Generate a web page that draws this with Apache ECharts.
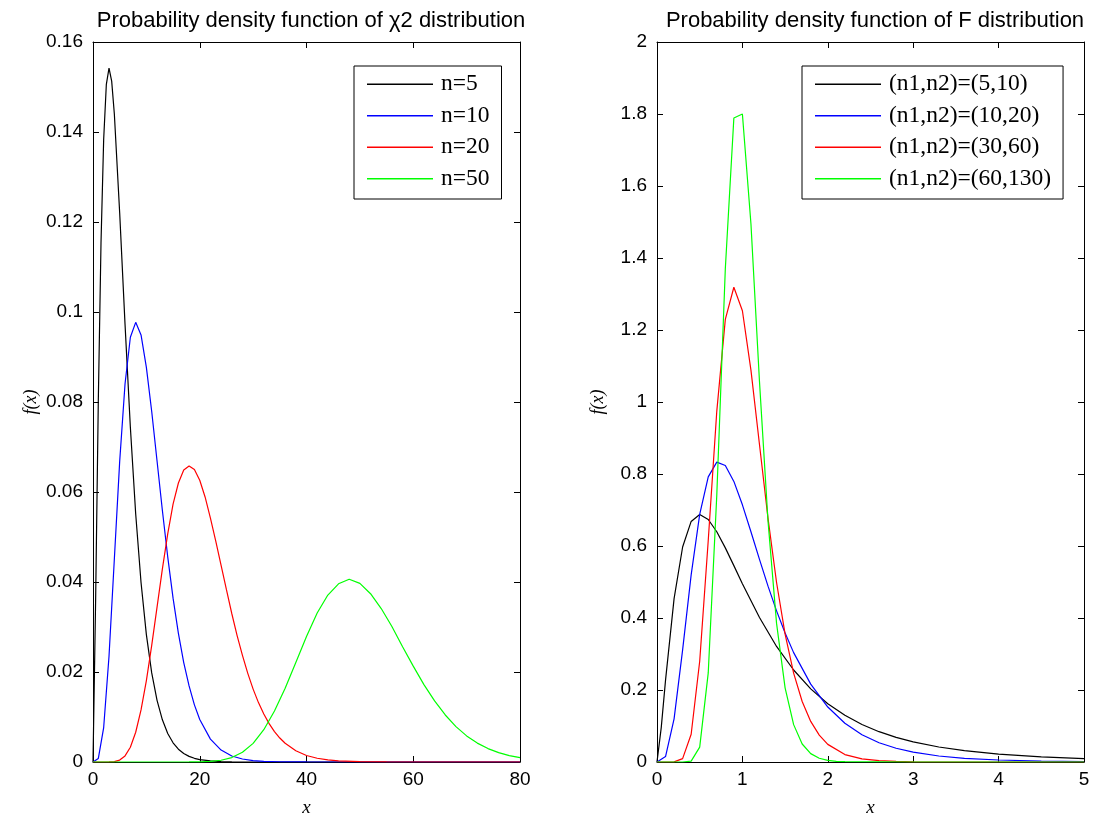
<!DOCTYPE html>
<html>
<head>
<meta charset="utf-8">
<script src="https://cdn.jsdelivr.net/npm/echarts@6/dist/echarts.min.js"></script>
<style>html,body{margin:0;padding:0;background:#fff}#c{width:1093px;height:822px}</style>
</head>
<body>
<div id="c"></div>
<script>
// ---- Chi-square panel data ----
const chiNames = ['n=5', 'n=10', 'n=20', 'n=50'];
const chiX5 = [0,0.5,1,1.5,2,2.5,3,3.5,4,5,6,7,8,9,10,11,12,13,14,15,16,17,18,19,20,22,24,26,30,40,50,60,70,80];
const chiY5 = [0,0.0366,0.0807,0.1154,0.1384,0.1506,0.1542,0.1513,0.1440,0.1220,0.0973,0.0744,0.0551,0.0399,0.0283,0.0198,0.0137,0.00937,0.00635,0.00427,0.00285,0.00190,0.00125,0.00082,0.00054,0.00023,0.0001,0.00004,0,0,0,0,0,0];
const chiX10 = [0,1,2,3,4,5,6,7,8,9,10,11,12,13,14,15,16,17,18,19,20,22,24,26,28,30,32,35,40,50,60,70,80];
const chiY10 = [0,0.00079,0.00766,0.0235,0.0451,0.0668,0.0840,0.0944,0.0977,0.0949,0.0877,0.0779,0.0669,0.0559,0.0456,0.0364,0.0286,0.0221,0.0169,0.0127,0.00946,0.00509,0.00265,0.00134,0.00067,0.00032,0.00015,0.00005,0.00001,0,0,0,0];
const chiX20 = [0,1,2,3,4,5,6,7,8,9,10,11,12,13,14,15,16,17,18,19,20,21,22,23,24,25,26,27,28,29,30,31,32,33,34,35,36,38,40,42,44,46,50,55,60,70,80];
const chiY20 = [0,0,0.0000005,0.000012,0.000095,0.00043,0.00135,0.00328,0.00661,0.01158,0.0181,0.0259,0.0344,0.0429,0.0507,0.0573,0.0620,0.0649,0.0658,0.0650,0.0626,0.0589,0.0542,0.0491,0.0437,0.0383,0.0330,0.0281,0.0237,0.0197,0.0162,0.0132,0.01065,0.00853,0.00676,0.00533,0.00416,0.00249,0.00145,0.00083,0.00046,0.00025,0.00007,0.00001,0,0,0];
const chiX50 = [0,10,18,20,22,24,26,28,30,32,34,36,38,40,42,44,46,48,50,52,54,56,58,60,62,64,66,68,70,72,74,76,78,80];
const chiY50 = [0,0,0.000008,0.0000366,0.000132,0.000394,0.000988,0.00215,0.00414,0.00718,0.01134,0.01641,0.0221,0.0279,0.0331,0.0371,0.0396,0.0406,0.0397,0.0374,0.0341,0.0301,0.0256,0.0213,0.0172,0.01357,0.01045,0.00786,0.00580,0.00420,0.00298,0.00208,0.00143,0.00096];

// ---- F panel data ----
const fNames = ['(n1,n2)=(5,10)', '(n1,n2)=(10,20)', '(n1,n2)=(30,60)', '(n1,n2)=(60,130)'];
const fXa = [0,0.05,0.1,0.2,0.3,0.4,0.5,0.6,0.7,0.8,0.9,1.0,1.2,1.4,1.6,1.8,2.0,2.2,2.4,2.6,2.8,3.0,3.3,3.6,4.0,4.5,5.0];
const fYa = [0,0.0963,0.2274,0.4538,0.5972,0.6683,0.6876,0.6736,0.6395,0.5948,0.5455,0.4954,0.4014,0.3210,0.2555,0.2032,0.1620,0.1296,0.1042,0.0842,0.0684,0.0558,0.0416,0.0314,0.0219,0.0143,0.0096];
const fXb = [0,0.1,0.2,0.3,0.4,0.5,0.6,0.7,0.8,0.9,1.0,1.1,1.2,1.3,1.4,1.5,1.6,1.8,2.0,2.2,2.4,2.6,2.8,3.0,3.3,3.6,4.0,4.5,5.0];
const fYb = [0,0.0150,0.1198,0.3114,0.5197,0.6879,0.7921,0.8331,0.8236,0.7794,0.7144,0.6396,0.5627,0.4884,0.4198,0.3582,0.3038,0.2163,0.1527,0.1076,0.0758,0.0536,0.0381,0.0272,0.0166,0.0103,0.0056,0.0027,0.00135];
const fXc = [0,0.1,0.2,0.3,0.4,0.5,0.6,0.7,0.8,0.9,1.0,1.1,1.2,1.3,1.4,1.5,1.6,1.7,1.8,1.9,2.0,2.2,2.4,2.6,2.8,3.0,4.0,5.0];
const fYc = [0,0,0.00024,0.00934,0.0772,0.2798,0.6151,0.9741,1.2295,1.3187,1.2534,1.0885,0.8819,0.6769,0.4986,0.3554,0.2469,0.1681,0.1128,0.0747,0.0490,0.0207,0.0086,0.0036,0.0015,0.0006,0,0];
const fXd = [0,0.1,0.2,0.3,0.4,0.5,0.6,0.7,0.8,0.9,1.0,1.1,1.2,1.3,1.4,1.5,1.6,1.7,1.8,1.9,2.0,2.1,2.2,3.0,4.0,5.0];
const fYd = [0,0,0,0.000025,0.0024,0.0413,0.2474,0.7408,1.370,1.789,1.800,1.495,1.057,0.669,0.385,0.206,0.1038,0.0500,0.0232,0.0105,0.0046,0.002,0.0008,0,0,0];

const colors = ['#000000', '#0000ff', '#ff0000', '#00ff00'];
const titles = ['Probability density function of \u03c72 distribution', 'Probability density function of F distribution'];

const pair = (xs, ys) => xs.map((x, i) => [x, ys[i]]);
const chiData = [pair(chiX5, chiY5), pair(chiX10, chiY10), pair(chiX20, chiY20), pair(chiX50, chiY50)];
const fData = [pair(fXa, fYa), pair(fXb, fYb), pair(fXc, fYc), pair(fXd, fYd)];

const sansFont = '"Liberation Sans", Arial, sans-serif';
const serifFont = '"Liberation Serif", "Times New Roman", serif';

function xAx(grid, min, max, interval, top) {
  return {
    type: 'value', gridIndex: grid, min: min, max: max, interval: interval,
    position: top ? 'top' : 'bottom',
    name: top ? '' : 'x', nameLocation: 'middle', nameGap: 36,
    nameTextStyle: { fontFamily: serifFont, fontStyle: 'italic', fontSize: 19, color: '#000' },
    axisLine: { show: true, onZero: false, lineStyle: { color: '#000', width: 1 } },
    axisTick: { show: true, inside: true, length: 6, lineStyle: { color: '#000' } },
    axisLabel: { show: !top, color: '#000', fontFamily: sansFont, fontSize: 19, margin: 8 },
    splitLine: { show: false }
  };
}
function yAx(grid, min, max, interval, right, gap) {
  return {
    type: 'value', gridIndex: grid, min: min, max: max, interval: interval,
    position: right ? 'right' : 'left',
    name: right ? '' : 'f(x)', nameLocation: 'middle', nameGap: gap,
    nameTextStyle: { fontFamily: serifFont, fontStyle: 'italic', fontSize: 18, color: '#000' },
    axisLine: { show: true, onZero: false, lineStyle: { color: '#000', width: 1 } },
    axisTick: { show: true, inside: true, length: 6, lineStyle: { color: '#000' } },
    axisLabel: { show: !right, color: '#000', fontFamily: sansFont, fontSize: 19, margin: 10 },
    splitLine: { show: false }
  };
}
function legend(names, left) {
  return {
    data: names, orient: 'vertical', left: left, top: 66,
    icon: 'rect', itemWidth: 66, itemHeight: 1.5, itemGap: 5,
    borderColor: '#000', borderWidth: 1, padding: [5, 12, 7, 13],
    backgroundColor: '#fff',
    textStyle: { fontFamily: serifFont, fontSize: 23.5, color: '#000', lineHeight: 26.5, padding: [0, 0, 0, 3] }
  };
}

const series = [];
chiNames.forEach((n, i) => series.push({
  name: n, type: 'line', xAxisIndex: 0, yAxisIndex: 0, data: chiData[i],
  showSymbol: false, symbol: 'none', lineStyle: { color: colors[i], width: 1.2 }, itemStyle: { color: colors[i] }, z: 2 + i
}));
fNames.forEach((n, i) => series.push({
  name: n, type: 'line', xAxisIndex: 2, yAxisIndex: 2, data: fData[i],
  showSymbol: false, symbol: 'none', lineStyle: { color: colors[i], width: 1.2 }, itemStyle: { color: colors[i] }, z: 2 + i
}));

const option = {
  animation: false,
  backgroundColor: '#fff',
  title: [
    { text: titles[0], left: 306, top: 5, textAlign: 'center', textStyle: { fontFamily: sansFont, fontSize: 22, fontWeight: 'normal', color: '#000' } },
    { text: titles[1], left: 870, top: 5, textAlign: 'center', textStyle: { fontFamily: sansFont, fontSize: 22, fontWeight: 'normal', color: '#000' } }
  ],
  legend: [legend(chiNames, 354), legend(fNames, 802)],
  grid: [
    { left: 93, right: 573, top: 42, bottom: 59 },
    { left: 657, right: 9, top: 42, bottom: 59 }
  ],
  xAxis: [xAx(0, 0, 80, 20, false), xAx(0, 0, 80, 20, true), xAx(1, 0, 5, 1, false), xAx(1, 0, 5, 1, true)],
  yAxis: [yAx(0, 0, 0.16, 0.02, false, 53), yAx(0, 0, 0.16, 0.02, true, 0), yAx(1, 0, 2, 0.2, false, 50), yAx(1, 0, 2, 0.2, true, 0)],
  series: series
};
const chart = echarts.init(document.getElementById('c'));
chart.setOption(option);
</script>
</body>
</html>
